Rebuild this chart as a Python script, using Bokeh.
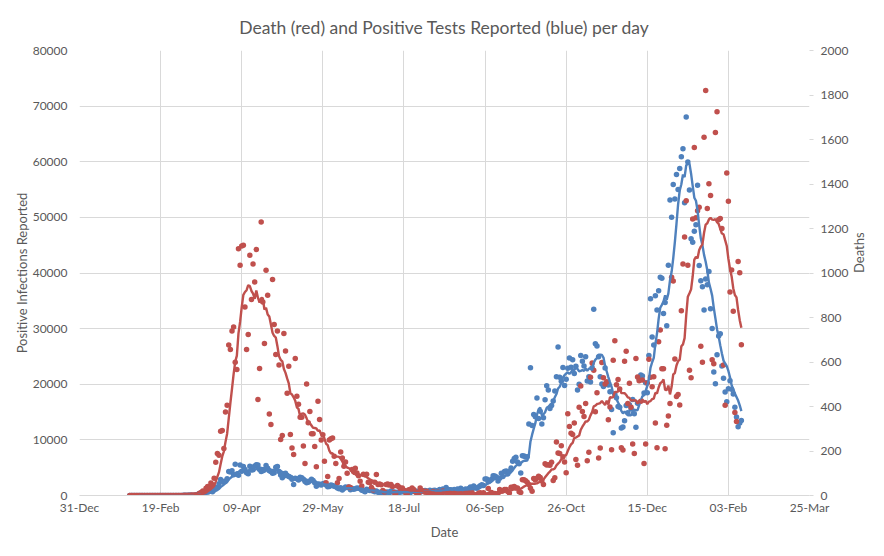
import math
import pandas as pd
from bokeh.plotting import figure
from bokeh.models import (Range1d, LinearAxis, FixedTicker, DatetimeTickFormatter,
                          ColumnDataSource, BasicTickFormatter)
from bokeh.embed import file_html
from bokeh.resources import INLINE

# ---------------- data (UK, reported per day) ----------------
cases_jan20 = [2]
cases_feb20 = [0, 0, 0, 0, 0, 1, 0, 0, 3, 4, 0, 0, 1, 0, 0, 0, 0, 0, 0, 0, 0, 0, 0, 0, 4, 0, 3, 5, 3]
cases_mar20 = [13, 4, 11, 34, 29, 48, 45, 69, 43, 67, 48, 134, 208, 342, 251, 152, 407, 676, 643, 714,
               1035, 665, 967, 1427, 1452, 2129, 2885, 2546, 2433, 2619, 3009]
cases_apr20 = [4324, 4244, 4450, 3735, 5600, 3802, 3634, 5491, 4344, 5195, 4676, 4092, 3897, 5252, 4605,
               4618, 5300, 5526, 5500, 4676, 4301, 4451, 4583, 5386, 4913, 4463, 4309, 3996, 4076, 5100]
cases_may20 = [5200, 4300, 3700, 3200, 3500, 4000, 3600, 3400, 3300, 2900, 1980, 3100, 3000, 2800, 3300,
               3200, 2900, 2500, 2300, 2400, 2600, 2900, 2700, 2300, 1650, 2000, 2000, 1890, 2100, 2200, 1900]
cases_jun20 = [1570, 1613, 1871, 1805, 1650, 1557, 1326, 1205, 1387, 1003, 1266, 1541, 1425, 1514, 1056,
               1279, 1115, 1218, 1346, 1295, 1221, 958, 874, 653, 1118, 1006, 890, 901, 815, 689]
cases_jul20 = [829, 576, 544, 624, 516, 352, 581, 630, 512, 820, 650, 650, 530, 598, 538, 642, 687, 827,
               672, 580, 445, 560, 769, 798, 767, 747, 685, 581, 763, 846, 880]
cases_aug20 = [743, 744, 938, 670, 892, 950, 871, 758, 1062, 816, 1148, 1009, 1441, 1062, 1012, 1040, 713,
               1089, 812, 1182, 1033, 1288, 1041, 853, 1184, 1048, 1276, 1522, 1108, 1715, 1406]
cases_sep20 = [1295, 1508, 1735, 1940, 1813, 2988, 2948, 2460, 2659, 2919, 3539, 3497, 3330, 2621, 3105,
               3991, 3395, 4322, 4422, 3899, 4368, 4926, 6178, 6634, 6874, 6042, 5693, 4044, 7143, 7108]
cases_oct20 = [6914, 6968, 12872, 22961, 12594, 14542, 14162, 17540, 13864, 15166, 12872, 13972, 17234,
               19724, 18980, 15650, 16171, 16982, 18804, 21331, 26688, 21242, 20530, 23012, 19790, 20890,
               22885, 24701, 23065, 24405, 21915]
cases_nov20 = [23254, 18950, 20018, 25177, 24141, 23287, 24957, 20572, 21350, 20412, 22950, 33470, 27301,
               26860, 24962, 21363, 20051, 19609, 22915, 20252, 19875, 18662, 15450, 11299, 18213, 17555,
               16022, 15871, 12155, 12330]
cases_dec20 = [13430, 16170, 14879, 16298, 15539, 17272, 14718, 12282, 16578, 20964, 21672, 21502, 18447,
               20263, 18450, 25161, 35383, 28507, 27052, 35928, 33364, 36804, 39237, 39036, 32725, 34693,
               30501, 41385, 53135, 50023, 55892]
cases_jan21 = [53285, 57725, 54990, 58784, 60916, 62322, 52618, 68053, 59937, 54940, 46169, 45533, 47525,
               48682, 55761, 41346, 38598, 37535, 33355, 38905, 37892, 40261, 33552, 30004, 22195, 20089,
               25308, 28680, 29079, 23275, 21088]
cases_feb21 = [18607, 16840, 19202, 20634, 19114, 18262, 15845, 14104, 12364, 13013, 13494]

deaths_jan20 = [0]
deaths_feb20 = [0, 0, 0, 0, 0, 0, 0, 0, 0, 0, 0, 0, 0, 0, 0, 0, 0, 0, 0, 0, 0, 0, 0, 0, 0, 0, 0, 0, 0]
deaths_mar20 = [0, 0, 0, 0, 1, 0, 1, 0, 2, 1, 2, 2, 1, 10, 14, 20, 16, 33, 40, 33, 56, 48, 78, 150, 189,
                181, 289, 292, 211, 375, 406]
deaths_apr20 = [676, 656, 739, 757, 599, 566, 1109, 1035, 1121, 1125, 847, 656, 724, 1080, 881, 1040, 960,
                1106, 432, 571, 1229, 870, 683, 1012, 900, 366, 319, 971, 769, 634]
deaths_may20 = [739, 586, 252, 270, 728, 649, 460, 581, 274, 214, 184, 616, 446, 410, 352, 352, 222, 144,
                501, 327, 378, 277, 277, 220, 129, 424, 342, 249, 273, 154, 57]
deaths_jun20 = [85, 249, 255, 258, 176, 144, 57, 76, 195, 169, 132, 151, 100, 38, 36, 117, 108, 122, 101,
                89, 64, 43, 95, 93, 96, 60, 57, 36, 25, 60]
deaths_jul20 = [94, 50, 52, 48, 22, 16, 50, 52, 48, 50, 40, 14, 11, 45, 38, 27, 34, 24, 12, 7, 26, 27, 34,
                27, 16, 7, 5, 34, 21, 20, 15]
deaths_aug20 = [19, 8, 3, 11, 18, 13, 10, 16, 7, 4, 20, 17, 12, 16, 13, 6, 3, 11, 14, 12, 11, 9, 3, 3, 16,
                13, 12, 9, 12, 1, 2]
deaths_sep20 = [3, 10, 12, 6, 12, 2, 2, 32, 8, 14, 6, 9, 5, 9, 27, 20, 21, 27, 27, 18, 11, 37, 37, 40, 34,
                34, 17, 13, 71, 71]
deaths_oct20 = [66, 59, 49, 33, 19, 76, 70, 77, 87, 81, 65, 50, 143, 137, 138, 136, 150, 67, 80, 241, 191,
                189, 224, 174, 151, 102, 367, 310, 280, 274, 326]
deaths_nov20 = [162, 136, 397, 492, 378, 355, 413, 156, 194, 532, 595, 563, 376, 462, 168, 213, 598, 529,
                501, 511, 341, 398, 206, 608, 696, 498, 521, 479, 215, 205]
deaths_dec20 = [603, 648, 414, 504, 397, 231, 189, 616, 533, 516, 424, 519, 144, 232, 506, 612, 532, 489,
                534, 326, 215, 691, 744, 570, 570, 210, 316, 357, 414, 981, 964]
deaths_jan21 = [613, 445, 454, 407, 830, 1041, 1162, 1325, 1035, 563, 529, 1243, 1564, 1248, 1280, 1295,
                671, 599, 1610, 1820, 1290, 1401, 1348, 610, 592, 1631, 1725, 1239, 1245, 1200, 587]
deaths_feb21 = [406, 1449, 1322, 915, 1014, 828, 373, 333, 1052, 1001, 678]

first_day = "2020-01-31"

x_tick_dates = ["2019-12-31", "2020-02-19", "2020-04-09", "2020-05-29", "2020-07-18",
                "2020-09-06", "2020-10-26", "2020-12-15", "2021-02-03", "2021-03-25"]
cases_ticks = [0, 10000, 20000, 30000, 40000, 50000, 60000, 70000, 80000]
deaths_ticks = [0, 200, 400, 600, 800, 1000, 1200, 1400, 1600, 1800, 2000]

title_text = "Death (red) and Positive Tests Reported (blue) per day"
left_label = "Positive Infections Reported"
right_label = "Deaths"
bottom_label = "Date"

# ---------------- assemble ----------------
cases = (cases_jan20 + cases_feb20 + cases_mar20 + cases_apr20 + cases_may20 + cases_jun20 +
         cases_jul20 + cases_aug20 + cases_sep20 + cases_oct20 + cases_nov20 + cases_dec20 +
         cases_jan21 + cases_feb21)
deaths = (deaths_jan20 + deaths_feb20 + deaths_mar20 + deaths_apr20 + deaths_may20 + deaths_jun20 +
          deaths_jul20 + deaths_aug20 + deaths_sep20 + deaths_oct20 + deaths_nov20 + deaths_dec20 +
          deaths_jan21 + deaths_feb21)
n = min(len(cases), len(deaths))
cases = cases[:n]
deaths = deaths[:n]
dates = pd.date_range(first_day, periods=n, freq="D")

df = pd.DataFrame({"date": dates, "cases": cases, "deaths": deaths})
df["cases_avg"] = df["cases"].rolling(7).mean()
df["deaths_avg"] = df["deaths"].rolling(7).mean()
src = ColumnDataSource(df)

BLUE = "#4f81bd"
RED = "#c0504d"
TXT = "#595959"
GRID = "#d9d9d9"
FONT = "Lato"

x_ticks = [pd.Timestamp(d) for d in x_tick_dates]
x_ticks_ms = [t.value / 1e6 for t in x_ticks]

p = figure(frame_width=730, frame_height=445, x_axis_type="datetime",
           x_range=Range1d(x_ticks[0], x_ticks[-1]),
           y_range=Range1d(cases_ticks[0], cases_ticks[-1]),
           output_backend="svg", toolbar_location=None,
           min_border_left=79, min_border_right=10, min_border_top=50, min_border_bottom=10)
p.extra_y_ranges = {"deaths": Range1d(deaths_ticks[0], deaths_ticks[-1])}

p.title.text = title_text
p.title.align = "center"
p.title.text_font = FONT
p.title.text_font_size = "17.5px"
p.title.text_font_style = "normal"
p.title.text_color = TXT
p.title.standoff = 25

p.outline_line_color = None
p.background_fill_color = "white"
p.border_fill_color = "white"

# x axis
xa = p.xaxis[0]
xa.ticker = FixedTicker(ticks=x_ticks_ms)
fmt = "%d-%b"
xa.formatter = DatetimeTickFormatter(milliseconds=fmt, seconds=fmt, minsec=fmt, minutes=fmt,
                                     hourmin=fmt, hours=fmt, days=fmt, months=fmt, years=fmt)
xa.axis_label = bottom_label
xa.axis_line_color = GRID
xa.major_tick_line_color = None
xa.major_tick_in = 0
xa.major_tick_out = 0
xa.minor_tick_line_color = None
xa.minor_tick_out = 0
xa.major_label_standoff = 4
xa.axis_label_standoff = 6

# left axis
ya = p.yaxis[0]
ya.ticker = FixedTicker(ticks=cases_ticks)
ya.formatter = BasicTickFormatter(use_scientific=False)
ya.axis_label = left_label
ya.axis_line_color = None
ya.major_tick_line_color = None
ya.major_tick_in = 0
ya.major_tick_out = 0
ya.minor_tick_line_color = None
ya.minor_tick_out = 0
ya.major_label_standoff = 12
ya.axis_label_standoff = 0

# right axis
ra = LinearAxis(y_range_name="deaths", ticker=FixedTicker(ticks=deaths_ticks),
                formatter=BasicTickFormatter(use_scientific=False), axis_label=right_label)
ra.axis_line_color = None
ra.major_tick_line_color = GRID
ra.major_tick_in = 0
ra.major_tick_out = 4
ra.minor_tick_line_color = None
ra.minor_tick_out = 0
ra.major_label_standoff = 7
ra.axis_label_standoff = 8
ra.axis_label_orientation = math.pi / 2
p.add_layout(ra, "right")

for ax in (xa, ya, ra):
    ax.major_label_text_font = FONT
    ax.major_label_text_font_size = "12px"
    ax.major_label_text_color = TXT
    ax.axis_label_text_font = FONT
    ax.axis_label_text_font_size = "13px"
    ax.axis_label_text_font_style = "normal"
    ax.axis_label_text_color = TXT

p.xgrid.grid_line_color = GRID
p.ygrid.grid_line_color = GRID
p.xgrid.ticker = xa.ticker
p.ygrid.ticker = ya.ticker

# glyphs
p.scatter("date", "cases", source=src, size=5.5, color=BLUE, line_color=None)
p.scatter("date", "deaths", source=src, size=5.5, color=RED, line_color=None, y_range_name="deaths")
p.line("date", "cases_avg", source=src, line_width=2.4, color=BLUE)
p.line("date", "deaths_avg", source=src, line_width=2.4, color=RED, y_range_name="deaths")

open("out.html", "w").write(file_html(p, INLINE))
